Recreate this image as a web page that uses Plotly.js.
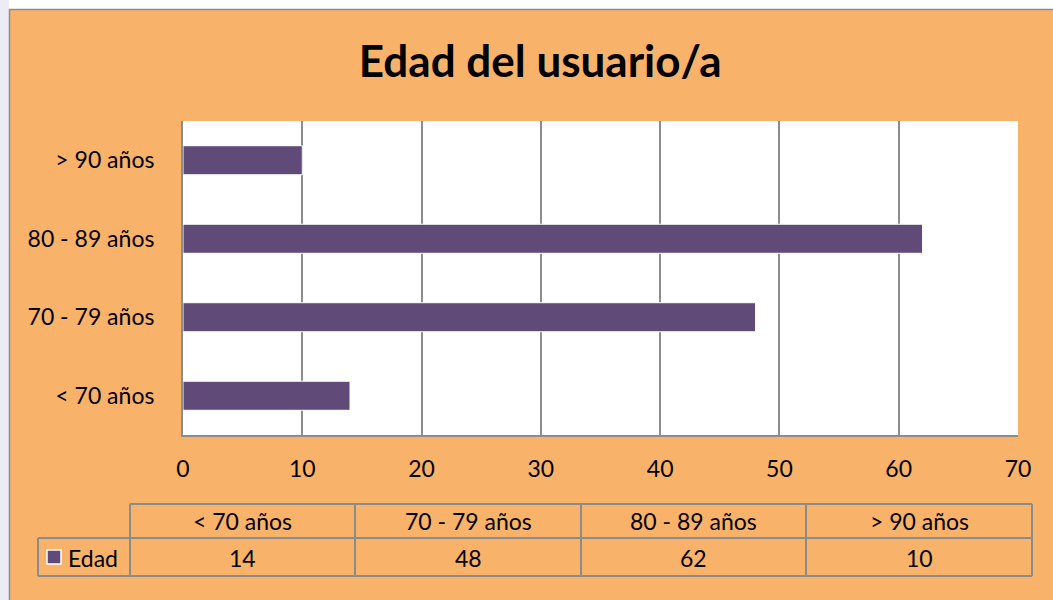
<!DOCTYPE html>
<html>
<head>
<meta charset="utf-8">
<script src="https://cdn.plot.ly/plotly-3.0.1.min.js"></script>
<style>
  body { margin: 0; background: #ffffff; }
  #graphDiv { width: 1053px; height: 600px; }
</style>
</head>
<body>
<div id="graphDiv"></div>
<script>
// chart data
var categories = ['< 70 años', '70 - 79 años', '80 - 89 años', '> 90 años'];
var edad = [14, 48, 62, 10];
var seriesName = 'Edad';
var xTicks = [0, 10, 20, 30, 40, 50, 60, 70];

var orange = '#f9b26a';
var purple = '#5f4a78';
var grey = '#8c8c8c';
var font = 'Lato, "Open Sans", sans-serif';
var txtSize = 23;

// plot area in pixels: left 183, right 1018, top 121, bottom 435
var L = 183, R = 1018, T = 121, B = 435;
function px(x) { return (x - L) / (R - L); }
function py(y) { return (B - y) / (B - T); }

var shapes = [];
var annotations = [];

// white strips around the orange chart frame
shapes.push({type: 'rect', xref: 'paper', yref: 'paper', x0: px(0), x1: px(1053), y0: py(9), y1: py(0),
  fillcolor: '#ffffff', line: {width: 0}, layer: 'below'});
shapes.push({type: 'rect', xref: 'paper', yref: 'paper', x0: px(0), x1: px(9), y0: py(600), y1: py(0),
  fillcolor: '#ececf7', line: {width: 0}, layer: 'below'});
shapes.push({type: 'line', xref: 'paper', yref: 'paper', x0: px(9), x1: px(1053), y0: py(9.5), y1: py(9.5),
  line: {color: grey, width: 1.5}});
shapes.push({type: 'line', xref: 'paper', yref: 'paper', x0: px(9.5), x1: px(9.5), y0: py(9), y1: py(600),
  line: {color: grey, width: 1.5}});

// data table under the chart
var colEdges = [130, 355, 581, 806, 1032];
var rowTop = 504, rowMid = 538, rowBot = 576;
function hline(x0, x1, y) {
  shapes.push({type: 'line', xref: 'paper', yref: 'paper', x0: px(x0), x1: px(x1), y0: py(y), y1: py(y),
    line: {color: grey, width: 2}});
}
function vline(x, y0, y1) {
  shapes.push({type: 'line', xref: 'paper', yref: 'paper', x0: px(x), x1: px(x), y0: py(y0), y1: py(y1),
    line: {color: grey, width: 2}});
}
hline(colEdges[0], colEdges[colEdges.length - 1], rowTop);
hline(38, colEdges[colEdges.length - 1], rowMid);
hline(38, colEdges[colEdges.length - 1], rowBot);
vline(38, rowMid, rowBot);
colEdges.forEach(function (x) { vline(x, rowTop, rowBot); });

function cellText(x, y, text, anchor) {
  annotations.push({xref: 'paper', yref: 'paper', x: px(x), y: py(y),
    xanchor: anchor || 'center', yanchor: 'middle',
    text: text, showarrow: false, font: {family: font, size: txtSize, color: '#000'}});
}
for (var i = 0; i < categories.length; i++) {
  var cx = (colEdges[i] + colEdges[i + 1]) / 2;
  cellText(cx, (rowTop + rowMid) / 2, categories[i]);
  cellText(cx, (rowMid + rowBot) / 2 + 1, String(edad[i]));
}

// legend key inside the table
shapes.push({type: 'rect', xref: 'paper', yref: 'paper', x0: px(47), x1: px(61), y0: py(564), y1: py(550),
  fillcolor: purple, line: {color: '#ffffff', width: 1.5}});
cellText(66, (rowMid + rowBot) / 2 + 1, seriesName, 'left');

var trace = {
  type: 'bar',
  orientation: 'h',
  x: edad,
  y: categories,
  name: seriesName,
  marker: {color: purple, line: {color: '#ffffff', width: 1}},
  hoverinfo: 'x+y'
};

var layout = {
  width: 1053,
  height: 600,
  margin: {l: L, r: 1053 - R, t: T, b: 600 - B},
  paper_bgcolor: orange,
  plot_bgcolor: '#ffffff',
  showlegend: false,
  bargap: 0.63,
  title: {
    text: '<b>Edad del usuario/a</b>',
    x: 0.513, xanchor: 'center',
    y: 1 - 62 / 600, yanchor: 'middle',
    font: {family: font, size: 44, color: '#000'}
  },
  xaxis: {
    range: [0, 70],
    tickvals: xTicks,
    showgrid: true,
    gridcolor: grey,
    gridwidth: 2,
    zeroline: false,
    showline: true,
    linecolor: grey,
    linewidth: 2,
    ticks: '',
    ticklabelstandoff: 12,
    tickfont: {family: font, size: txtSize, color: '#000'},
    fixedrange: true
  },
  yaxis: {
    type: 'category',
    showgrid: false,
    zeroline: false,
    showline: true,
    linecolor: grey,
    linewidth: 2,
    ticks: '',
    ticklabelstandoff: 22,
    tickfont: {family: font, size: txtSize, color: '#000'},
    fixedrange: true
  },
  shapes: shapes,
  annotations: annotations
};

Plotly.newPlot('graphDiv', [trace], layout, {displayModeBar: false, staticPlot: true});
</script>
</body>
</html>
